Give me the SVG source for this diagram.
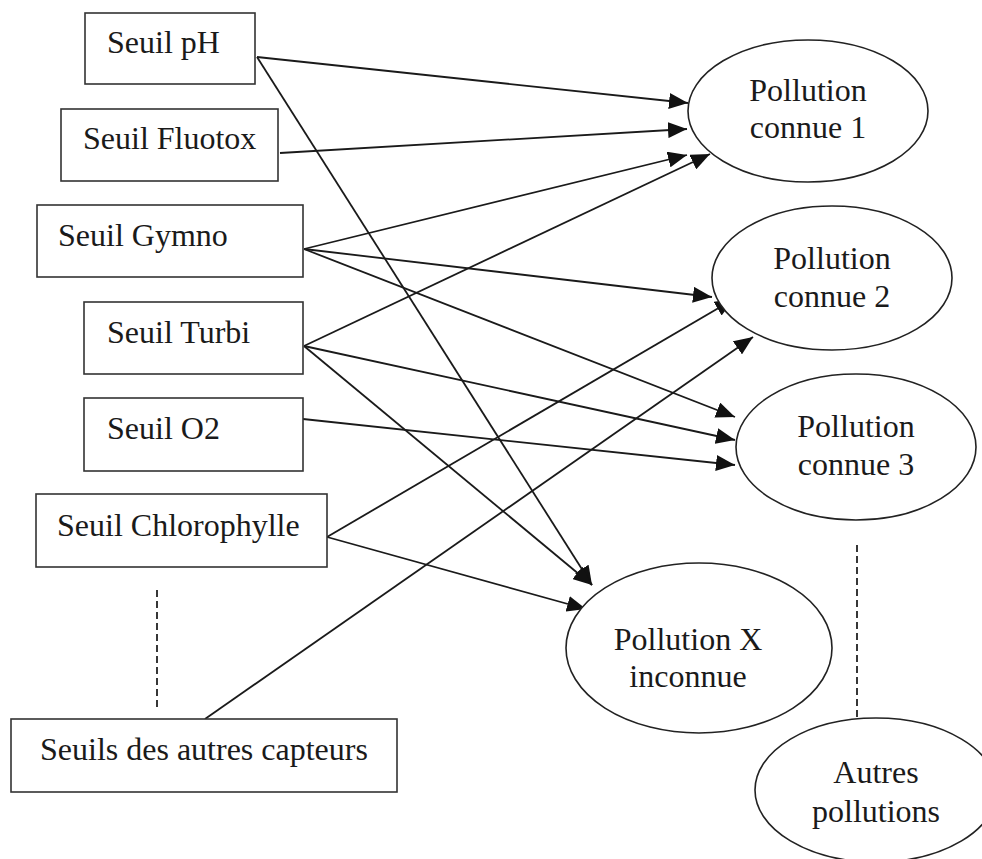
<svg xmlns="http://www.w3.org/2000/svg" width="982" height="859" viewBox="0 0 982 859">
<style>
.box{fill:#fff;stroke:#333;stroke-width:1.6}
.ell{fill:#fff;stroke:#222;stroke-width:1.6}
.t{font-family:"Liberation Serif","Times New Roman",serif;font-size:32px;fill:#1a1a1a}
.c{text-anchor:middle}
.edge{stroke:#1a1a1a;stroke-width:1.8;fill:none;marker-end:url(#arr)}
.dash{stroke:#222;stroke-width:1.8;stroke-dasharray:7 4;fill:none}
</style>
<defs>
<marker id="arr" markerUnits="userSpaceOnUse" markerWidth="20" markerHeight="16" refX="19" refY="8" orient="auto">
<path d="M0,0 L19,8 L0,16 Z" fill="#111"/>
</marker>
</defs>
<rect width="982" height="859" fill="#fff"/>
<g id="connectors">
<line class="edge" x1="257" y1="57" x2="688" y2="103"/>
<line class="edge" x1="257" y1="57" x2="592" y2="585"/>
<line class="edge" x1="280" y1="153" x2="687" y2="129"/>
<line class="edge" x1="304" y1="249" x2="687" y2="155"/>
<line class="edge" x1="304" y1="249" x2="712" y2="297"/>
<line class="edge" x1="304" y1="249" x2="735" y2="417"/>
<line class="edge" x1="304" y1="346" x2="710" y2="154"/>
<line class="edge" x1="304" y1="346" x2="735" y2="440"/>
<line class="edge" x1="304" y1="346" x2="592" y2="585"/>
<line class="edge" x1="303" y1="419" x2="735" y2="465"/>
<line class="edge" x1="327" y1="537" x2="734" y2="299"/>
<line class="edge" x1="327" y1="537" x2="586" y2="609"/>
<line class="edge" x1="205" y1="719" x2="753" y2="337"/>
<line class="dash" x1="157" y1="590" x2="157" y2="710"/>
<line class="dash" x1="857" y1="545" x2="857" y2="718"/>
</g>
<g id="n-ph"><rect class="box" x="85" y="13" width="170" height="71"/><text class="t" x="107" y="53">Seuil pH</text></g>
<g id="n-fluotox"><rect class="box" x="61" y="109" width="217" height="72"/><text class="t" x="83" y="149">Seuil Fluotox</text></g>
<g id="n-gymno"><rect class="box" x="37" y="205" width="266" height="72"/><text class="t" x="58" y="246">Seuil Gymno</text></g>
<g id="n-turbi"><rect class="box" x="84" y="302" width="219" height="72"/><text class="t" x="107" y="343">Seuil Turbi</text></g>
<g id="n-o2"><rect class="box" x="84" y="398" width="219" height="73"/><text class="t" x="107" y="439">Seuil O2</text></g>
<g id="n-chloro"><rect class="box" x="36" y="494" width="291" height="73"/><text class="t" x="57" y="536">Seuil Chlorophylle</text></g>
<g id="n-autres-capteurs"><rect class="box" x="11" y="719" width="386" height="73"/><text class="t" x="40" y="760">Seuils des autres capteurs</text></g>
<g id="n-p1"><ellipse class="ell" cx="808" cy="111" rx="120" ry="71"/><text class="t c" x="808" y="101">Pollution</text><text class="t c" x="808" y="138">connue 1</text></g>
<g id="n-p2"><ellipse class="ell" cx="832" cy="278" rx="120" ry="72"/><text class="t c" x="832" y="269">Pollution</text><text class="t c" x="832" y="307">connue 2</text></g>
<g id="n-p3"><ellipse class="ell" cx="856" cy="447" rx="120" ry="73"/><text class="t c" x="856" y="437">Pollution</text><text class="t c" x="856" y="475">connue 3</text></g>
<g id="n-px"><ellipse class="ell" cx="699" cy="648" rx="133" ry="85"/><text class="t c" x="688" y="650">Pollution X</text><text class="t c" x="688" y="687">inconnue</text></g>
<g id="n-autres"><ellipse class="ell" cx="876" cy="790" rx="121" ry="72"/><text class="t c" x="876" y="783">Autres</text><text class="t c" x="876" y="822">pollutions</text></g>
</svg>
